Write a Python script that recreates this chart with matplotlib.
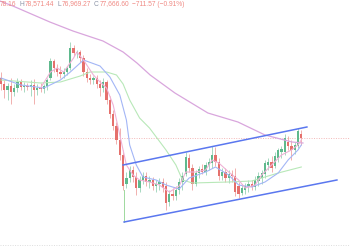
import numpy as np
import matplotlib
matplotlib.use("Agg")
import matplotlib.pyplot as plt
from matplotlib.transforms import IdentityTransform

################################################################################
# candles (price), one per bar
opens = [83670, 83070, 82470, 82870, 82270, 82670, 83270, 82770, 82870, 82770,
         82970, 82470, 82670, 82570, 82870, 83670, 85370, 84670, 84270, 84070,
         84270, 84670, 86670, 86170, 86270, 85670, 84270, 83670, 83470, 83670,
         83070, 82670, 83270, 81470, 80070, 78870, 77470, 75970, 73070, 73670,
         74470, 73770, 72670, 73470, 73870, 73270, 73470, 72870, 73070, 73270,
         72870, 71270, 72070, 71870, 72470, 73270, 74070, 75670, 74670, 73070,
         74170, 74570, 74270, 74970, 75170, 75970, 75270, 73870, 74270, 73670,
         74070, 73870, 72870, 72170, 72470, 72870, 73070, 72770, 73370, 73670,
         74070, 74970, 75270, 74870, 75670, 76270, 76270, 77270, 76870, 76470,
         76870, 78070]
highs = [84270, 83470, 83170, 83670, 83070, 83670, 83570, 83270, 83170, 83470,
         83570, 83070, 83170, 83070, 83670, 85670, 85570, 85070, 84870, 84670,
         84870, 87270, 86970, 86470, 86470, 85970, 84670, 84070, 83870, 83970,
         83470, 83670, 83470, 81870, 80470, 79270, 78670, 76470, 74270, 74870,
         74870, 74270, 73870, 74270, 74270, 73870, 73770, 73470, 73670, 73670,
         73270, 72470, 72670, 72870, 73670, 74270, 76270, 76070, 75070, 74470,
         74870, 75070, 75270, 75670, 76870, 76770, 75670, 74670, 74670, 74470,
         74470, 74670, 73270, 73070, 73170, 73470, 73470, 73870, 74270, 74470,
         75470, 75670, 75870, 76270, 76670, 76870, 78070, 77870, 77470, 77270,
         78670, 78470]
lows = [82470, 81670, 81470, 81070, 81870, 82270, 82470, 82270, 82470, 81870,
        81070, 81970, 82270, 82170, 82470, 83470, 84270, 83870, 83670, 83670,
        83970, 84470, 85870, 85670, 85270, 83870, 83270, 83070, 83070, 82670,
        81870, 82270, 81070, 79670, 78470, 77070, 75470, 72470, 72670, 73270,
        73270, 71970, 72270, 73070, 72870, 72670, 72470, 72270, 72470, 72270,
        70470, 70870, 71470, 71470, 72070, 72470, 73870, 74270, 72470, 72870,
        73670, 74070, 73970, 74470, 74670, 74870, 73470, 73470, 73270, 73170,
        73270, 71870, 71670, 71970, 72070, 72270, 72470, 72470, 72870, 73070,
        73670, 74470, 74270, 74670, 75270, 75670, 75970, 76470, 75470, 76070,
        76670, 76969.27]
closes = [83070, 82470, 82870, 82270, 82670, 83270, 82770, 82870, 82770, 82970,
          82470, 82670, 82570, 82870, 83470, 85370, 84670, 84270, 84070, 84270,
          84670, 86670, 86170, 86270, 85670, 84270, 83670, 83470, 83670, 83070,
          82670, 83270, 81470, 80070, 78870, 77470, 75970, 72870, 73670, 74470,
          73770, 72670, 73470, 73870, 73270, 73470, 72870, 73070, 73270, 72670,
          71170, 72070, 71870, 72470, 73270, 73870, 75770, 74670, 73070, 74170,
          74570, 74270, 74970, 75270, 75970, 75270, 73870, 74270, 73670, 74070,
          73870, 72270, 72070, 72670, 72870, 73070, 72770, 73470, 73870, 74170,
          75170, 75270, 74670, 75870, 76470, 76570, 77670, 76870, 76470, 76970,
          78370, 77666.60]

# moving averages: (bar index, price)
maLongIdx = [-0.3, 3.6, 14.8, 21.8, 30.9, 37, 41.2, 45.2, 52.7, 62.7, 71.8, 80, 88.2, 91.5]
maLongVal = [91370, 90870, 89270, 88370, 87370, 86270, 85170, 83970, 82170, 80170,
             79270, 77970, 77270, 77170]
maMidIdx = [0, 12, 18, 24, 27, 32, 35, 37, 39, 42, 45, 50, 53, 55, 58, 69, 76, 84, 91]
maMidVal = [83470, 83170, 83270, 83870, 84270, 84270, 83970, 83070, 81470, 79670,
            78670, 76470, 74970, 73470, 73170, 73270, 73370, 74170, 74770]
maFastIdx = [0, 6, 13, 18, 21, 25, 30, 33, 36, 38, 39, 41, 43, 47, 50, 54, 57, 62,
             65, 69, 72, 76, 80, 84, 87, 90, 91]
maFastVal = [83670, 82970, 82670, 83470, 84270, 85470, 84870, 83770, 81970, 79470,
             76970, 74970, 73770, 73470, 72970, 72570, 73670, 74270, 74770, 73970,
             72970, 72770, 73270, 74170, 75470, 76470, 76970]
maShortIdx = [12, 15, 17, 19, 22, 23, 25, 28, 30, 32, 34, 36, 38, 40, 42, 45, 48, 51,
              54, 56, 59, 62, 64, 66, 69, 72, 74, 77, 79, 82, 85, 88, 90, 91]
maShortVal = [82670, 84270, 84670, 84270, 85670, 86270, 85470, 83970, 83270, 82670,
              80970, 77970, 74970, 73970, 73470, 73270, 72970, 72270, 72870, 74270,
              74270, 74470, 75470, 75170, 74270, 73470, 72670, 72970, 73970, 74970,
              75970, 76470, 76970, 77470]

# drawn channel and marker line
chanUpIdx = [37, 92.7]
chanUpVal = [74970, 78770]
chanLoIdx = [37.3, 101.8]
chanLoVal = [69270, 73470]
markIdx = [37.3, 37.3]
markVal = [72470, 69270]
lastPrice = 77666.60
paneBottom = 66970

header = [("78.16", "val"), ("H", "lab"), ("78,571.44", "val"), ("L", "lab"),
          ("76,969.27", "val"), ("C", "lab"), ("77,666.60", "val"),
          ("\u2212711.57 (\u22120.91%)", "val")]

################################################################################
upCol = "#5fb98d"
dnCol = "#e5706c"

fig = plt.figure(figsize=(3.5, 2.5), dpi=100)
ax = fig.add_axes([0, 0, 1, 1])
ax.set_xlim(-0.303, 105.76)
ax.set_ylim(66470, 91470)
ax.axis("off")

ax.axhline(lastPrice, color="#f3b8b8", lw=0.7, ls=(0, (1, 1.5)), zorder=1)
ax.axhline(paneBottom, color="#dddddd", lw=0.7, ls=(0, (1, 1.5)), zorder=1)

x = np.arange(len(closes))
o = np.array(opens); c = np.array(closes)
h = np.array(highs); l = np.array(lows)
up = c >= o
cols = np.where(up, upCol, dnCol)
ax.vlines(x, l, h, colors=cols, lw=0.7, alpha=0.55, zorder=2)
body = np.maximum(np.abs(c - o), 60)
ax.bar(x, body, bottom=np.minimum(o, c), width=0.7, color=cols, lw=0, zorder=3)

ax.plot(maLongIdx, maLongVal, color="#d9a6dd", lw=0.9, zorder=4)
ax.plot(maMidIdx, maMidVal, color="#b8e8b8", lw=0.8, zorder=4)
ax.plot(maFastIdx, maFastVal, color="#a3b6f6", lw=0.8, zorder=4)
ax.plot(maShortIdx, maShortVal, color="#efb2d6", lw=0.8, zorder=4)

ax.plot(markIdx, markVal, color="#9ed99e", lw=0.7, zorder=4)
ax.plot(chanUpIdx, chanUpVal, color="#5a77ef", lw=1.1, zorder=5)
ax.plot(chanLoIdx, chanLoVal, color="#5a77ef", lw=1.1, zorder=5)

################################################################################
# OHLC header, laid out piece by piece
fig.canvas.draw()
rend = fig.canvas.get_renderer()
px = 0.0
for s, kind in header:
    col = "#f08a84" if kind == "val" else "#8a93a6"
    t = fig.text(px, 246, s, color=col, fontsize=4.8, family="Liberation Sans",
                 va="center", ha="left", transform=IdentityTransform())
    bb = t.get_window_extent(rend)
    px = bb.x1 + (0.6 if kind == "lab" else 3.0)

fig.savefig("out.png", dpi=100, facecolor="white")
